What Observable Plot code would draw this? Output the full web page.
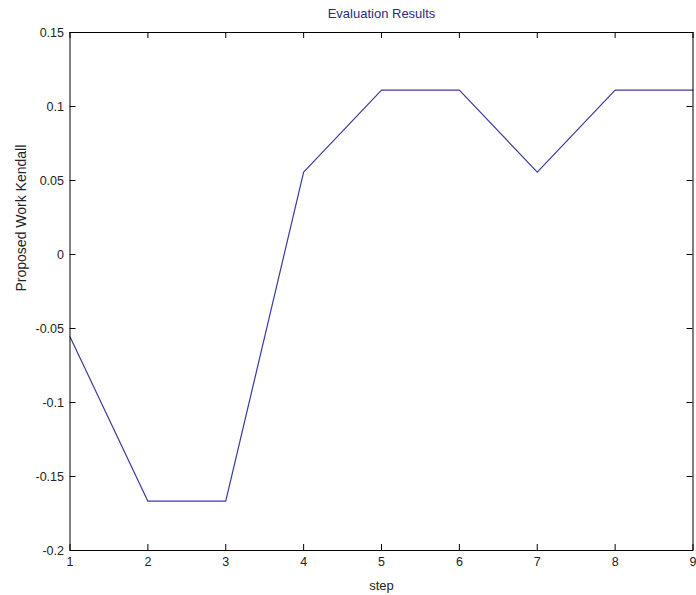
<!DOCTYPE html>
<html>
<head>
<meta charset="utf-8">
<script src="https://cdn.jsdelivr.net/npm/d3@7"></script>
<script src="https://cdn.jsdelivr.net/npm/@observablehq/plot@0.6"></script>
<style>
  html, body { margin: 0; padding: 0; background: #fff; }
  svg { display: block; }
</style>
</head>
<body>
<div id="chart"></div>
<script>
const steps = [1, 2, 3, 4, 5, 6, 7, 8, 9];
const kendall = [-0.0556, -0.1667, -0.1667, 0.0556, 0.1111, 0.1111, 0.0556, 0.1111, 0.1111];
const xTicks = [1, 2, 3, 4, 5, 6, 7, 8, 9];
const yTicks = [-0.2, -0.15, -0.1, -0.05, 0, 0.05, 0.1, 0.15];
const yTickLabels = ["-0.2", "-0.15", "-0.1", "-0.05", "0", "0.05", "0.1", "0.15"];
const titleText = "Evaluation Results";
const xLabel = "step";
const yLabel = "Proposed Work Kendall";

const data = steps.map((s, i) => ({step: s, value: kendall[i]}));

const W = 696, H = 595;
const mL = 69.5, mR = 3.5, mT = 32, mB = 45;
const tick = 6;
const innerW = W - mL - mR, innerH = H - mT - mB;
const font = "'Liberation Sans', Arial, Helvetica, sans-serif";

const chart = Plot.plot({
  width: W,
  height: H,
  marginLeft: mL,
  marginRight: mR,
  marginTop: mT,
  marginBottom: mB,
  style: {fontFamily: font, fontSize: "12.5px", color: "#111", background: "#fff"},
  x: {domain: [1, 9]},
  y: {domain: [-0.2, 0.15]},
  marks: [
    Plot.line(data, {x: "step", y: "value", stroke: "#3a3a9e", strokeWidth: 1.2}),
    // inward ticks, bottom & top
    Plot.tickX(xTicks, {x: d => d, insetTop: innerH - tick, stroke: "#000"}),
    Plot.tickX(xTicks, {x: d => d, insetBottom: innerH - tick, stroke: "#000"}),
    // inward ticks, left & right
    Plot.tickY(yTicks, {y: d => d, insetRight: innerW - tick, stroke: "#000"}),
    Plot.tickY(yTicks, {y: d => d, insetLeft: innerW - tick, stroke: "#000"}),
    Plot.frame({stroke: "#000", strokeWidth: 1}),
    Plot.axisX(xTicks, {tickSize: 0, tickPadding: 7, label: null, fontSize: 12.5, fill: "#222"}),
    Plot.axisY(yTicks, {tickSize: 0, tickPadding: 6, label: null, fontSize: 12.5, fill: "#222",
      tickFormat: (d) => yTickLabels[yTicks.indexOf(d)]}),
    Plot.text([titleText], {frameAnchor: "top", dy: -19, text: d => d, fill: "#2b2b86", fontSize: 13, lineAnchor: "middle"}),
    Plot.text([xLabel], {frameAnchor: "bottom", dy: 35, text: d => d, fill: "#222", fontSize: 13, lineAnchor: "middle"}),
    Plot.text([yLabel], {frameAnchor: "left", dx: -48, rotate: -90, text: d => d, fill: "#222", fontSize: 14, lineAnchor: "middle"})
  ]
});
document.getElementById("chart").appendChild(chart);
</script>
</body>
</html>
